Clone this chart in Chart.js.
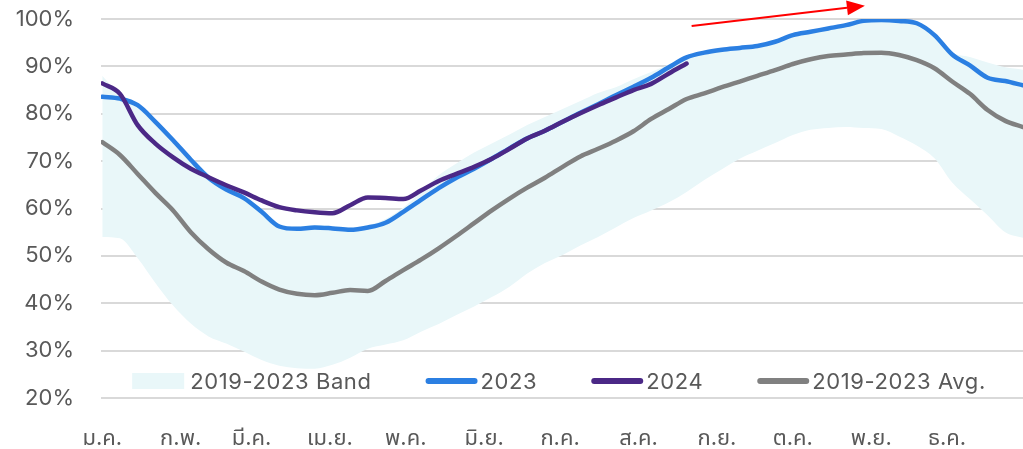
<!DOCTYPE html>
<html>
<head>
<meta charset="utf-8">
<script src="https://cdn.jsdelivr.net/npm/chart.js@4.4.1/dist/chart.umd.min.js"></script>
<style>
  html, body { margin: 0; padding: 0; background: #fff; }
  #wrap { width: 1023px; height: 449px; }
</style>
</head>
<body>
<div id="wrap"><canvas id="storage"></canvas></div>
<script>
// day of year for each weekly reading
const weekDays = [0,7,14,21,28,35,42,49,56,63,70,77,84,91,98,105,112,119,126,133,140,147,154,161,168,175,182,189,196,203,210,217,224,231,238,245,252,259,266,273,280,287,294,301,308,315,322,329,336,343,350,357,364];

const months = ['ม.ค.','ก.พ.','มี.ค.','เม.ย.','พ.ค.','มิ.ย.','ก.ค.','ส.ค.','ก.ย.','ต.ค.','พ.ย.','ธ.ค.'];
const monthStart = [0,31,59,90,120,151,181,212,243,273,304,334];

const y2023 = [83.6,83.2,81.8,78.3,74.4,70.3,66.5,64.0,62.2,59.3,56.2,55.7,56.0,55.8,55.5,56.0,57.0,59.3,61.8,64.3,66.5,68.4,70.5,72.7,74.8,76.4,78.3,80.2,82.0,83.9,85.7,87.6,89.8,91.9,92.9,93.5,93.9,94.3,95.2,96.6,97.3,98.0,98.7,99.6,99.8,99.6,99.1,96.6,92.5,90.2,87.6,86.9,86.0];

const y2024 = [86.4,84.2,77.6,73.7,70.8,68.4,66.6,64.9,63.4,61.7,60.3,59.6,59.2,59.0,60.7,62.3,62.2,62.0,63.8,65.8,67.3,68.8,70.5,72.6,74.8,76.4,78.3,80.1,81.8,83.4,85.0,86.3,88.5,90.6];

const avg = [74.0,71.3,67.3,63.3,59.6,55.0,51.4,48.6,46.8,44.6,42.9,42.0,41.7,42.2,42.8,42.6,44.7,47.0,49.2,51.6,54.2,56.9,59.6,62.1,64.4,66.5,68.8,71.0,72.6,74.3,76.3,78.9,81.0,83.1,84.3,85.6,86.8,88.0,89.2,90.5,91.5,92.2,92.5,92.8,92.9,92.4,91.3,89.6,86.8,84.2,80.8,78.5,77.2];

const bandHigh = [88.0,84.0,82.2,78.8,75.0,71.0,67.2,64.5,62.6,59.8,56.7,56.2,56.5,56.3,56.0,56.5,57.8,60.2,63.5,67.0,69.5,71.8,73.7,75.6,77.6,79.3,81.0,82.7,84.4,85.6,87.3,88.8,90.4,92.0,93.1,93.8,94.2,94.6,95.5,96.9,97.6,98.3,99.0,99.8,100.0,99.8,99.3,96.9,93.0,92.0,90.8,89.8,89.3];

const bandLow = [54.0,53.7,49.5,44.3,39.5,35.7,33.0,31.5,29.8,28.0,26.8,26.3,26.2,27.0,28.5,30.4,31.3,32.2,34.0,35.6,37.5,39.3,41.3,43.5,46.3,48.5,50.2,52.2,54.0,56.0,58.0,59.6,61.3,63.5,66.0,68.3,70.5,72.2,73.8,75.5,76.6,77.0,77.2,77.0,76.8,75.2,73.3,70.6,65.5,62.0,58.6,55.0,53.8];

const yTicks = [20,30,40,50,60,70,80,90,100];

// arrow annotation, in data units [day, %]
const arrowFrom = [233, 98.5];
const arrowTo = [301.5, 102.8];

const BLUE = '#2b7fe2';
const PURPLE = '#4b2886';
const GRAY = '#808080';
const BAND = '#e9f7f9';
const FONT = 'Inter, "Noto Sans", "Noto Sans Thai", sans-serif';

const pts = (vals) => vals.map((v, i) => ({x: weekDays[i], y: v}));

const legendItems = [
  {text: '2019-2023 Band', color: BAND, box: true},
  {text: '2023', color: BLUE},
  {text: '2024', color: PURPLE},
  {text: '2019-2023 Avg.', color: GRAY},
];

const insideLegend = {
  id: 'insideLegend',
  afterDatasetsDraw(chart) {
    const ctx = chart.ctx;
    const area = chart.chartArea;
    ctx.save();
    ctx.font = '22px ' + FONT;
    ctx.letterSpacing = '0.6px';
    ctx.textBaseline = 'middle';
    const sw = 52, gapBox = 6, gapLine = 3, gapItem = 54;
    let total = 0;
    legendItems.forEach((it, i) => {
      it.w = sw + (it.box ? gapBox : gapLine) + ctx.measureText(it.text).width;
      total += it.w + (i ? gapItem : 0);
    });
    let x = (area.left + area.right) / 2 - total / 2 - 3;
    const y = area.bottom - 17;
    legendItems.forEach(it => {
      if (it.box) {
        ctx.fillStyle = it.color;
        ctx.fillRect(x, y - 8, sw, 16);
      } else {
        ctx.strokeStyle = it.color;
        ctx.lineWidth = 6;
        ctx.lineCap = 'round';
        ctx.beginPath();
        ctx.moveTo(x + 3, y);
        ctx.lineTo(x + sw - 3, y);
        ctx.stroke();
      }
      ctx.fillStyle = '#595959';
      ctx.fillText(it.text, x + sw + (it.box ? gapBox : gapLine), y + 1);
      x += it.w + gapItem;
    });
    ctx.restore();
  }
};

const arrowPlugin = {
  id: 'arrowPlugin',
  afterDatasetsDraw(chart) {
    const xs = chart.scales.x, ys = chart.scales.y;
    const x1 = xs.getPixelForValue(arrowFrom[0]), y1 = ys.getPixelForValue(arrowFrom[1]);
    const x2 = xs.getPixelForValue(arrowTo[0]), y2 = ys.getPixelForValue(arrowTo[1]);
    const ang = Math.atan2(y2 - y1, x2 - x1);
    const len = 18, half = 7.5;
    const bx = x2 - len * Math.cos(ang), by = y2 - len * Math.sin(ang);
    const ctx = chart.ctx;
    ctx.save();
    ctx.strokeStyle = '#ff0000';
    ctx.fillStyle = '#ff0000';
    ctx.lineWidth = 2;
    ctx.beginPath();
    ctx.moveTo(x1, y1);
    ctx.lineTo(bx, by);
    ctx.stroke();
    ctx.beginPath();
    ctx.moveTo(x2, y2);
    ctx.lineTo(bx + half * Math.sin(ang), by - half * Math.cos(ang));
    ctx.lineTo(bx - half * Math.sin(ang), by + half * Math.cos(ang));
    ctx.closePath();
    ctx.fill();
    ctx.restore();
  }
};

const lineSet = (label, vals, color) => ({
  label: label,
  data: pts(vals),
  borderColor: color,
  borderWidth: 4.5,
  pointRadius: 0,
  fill: false,
  cubicInterpolationMode: 'monotone',
  borderCapStyle: 'round',
});

const storage = document.getElementById('storage');
new Chart(storage, {
  type: 'line',
  data: {
    datasets: [
      lineSet('2024', y2024, PURPLE),
      lineSet('2023', y2023, BLUE),
      lineSet('2019-2023 Avg.', avg, GRAY),
      {
        label: '2019-2023 Band',
        data: pts(bandHigh),
        borderWidth: 0,
        pointRadius: 0,
        backgroundColor: BAND,
        fill: '+1',
        cubicInterpolationMode: 'monotone',
      },
      {
        label: 'band low',
        data: pts(bandLow),
        borderWidth: 0,
        pointRadius: 0,
        fill: false,
        cubicInterpolationMode: 'monotone',
      },
    ]
  },
  options: {
    responsive: true,
    maintainAspectRatio: false,
    animation: false,
    layout: {padding: {top: 19, right: 0, left: 0, bottom: 0}},
    plugins: {
      legend: {display: false},
      tooltip: {enabled: false},
    },
    scales: {
      x: {
        type: 'linear',
        min: -0.5,
        max: 364,
        grid: {display: false},
        border: {display: false},
        afterBuildTicks: (scale) => { scale.ticks = monthStart.map(v => ({value: v})); },
        afterFit: (scale) => { scale.height = 51; scale.paddingLeft = 0; scale.paddingRight = 0; },
        ticks: {
          autoSkip: false,
          maxRotation: 0,
          padding: 19,
          color: '#595959',
          font: {family: FONT, size: 22},
          callback: (v) => months[monthStart.indexOf(v)],
        },
      },
      y: {
        min: 20,
        max: 100,
        afterBuildTicks: (scale) => { scale.ticks = yTicks.map(v => ({value: v})); },
        afterFit: (scale) => { scale.width = 101; scale.paddingTop = 0; scale.paddingBottom = 0; },
        grid: {color: '#d9d9d9', lineWidth: 2, drawTicks: false},
        border: {display: false},
        ticks: {
          padding: 27,
          color: '#595959',
          font: {family: FONT, size: 22},
          callback: (v) => v + '%',
        },
      },
    },
  },
  plugins: [insideLegend, arrowPlugin],
});
</script>
</body>
</html>
